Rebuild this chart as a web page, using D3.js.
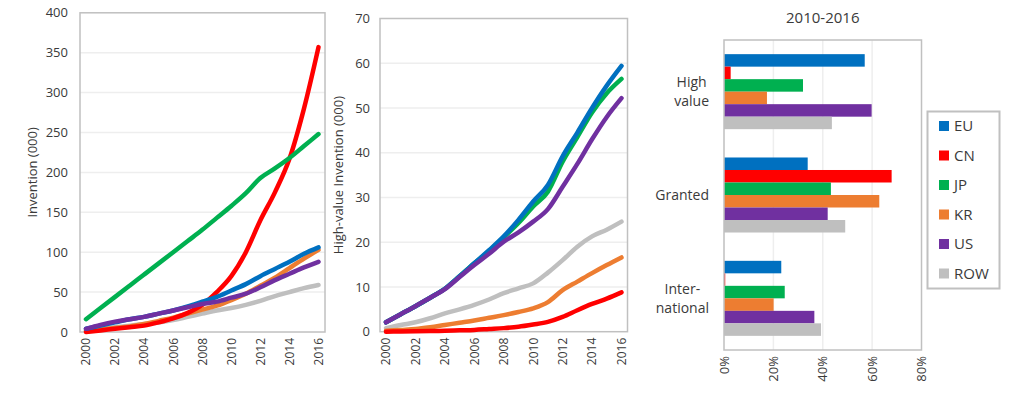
<!DOCTYPE html>
<html>
<head>
<meta charset="utf-8">
<script src="https://cdn.jsdelivr.net/npm/d3@7"></script>
<style>
  body { margin: 0; background: #fff; }
  svg { display: block; font-family: "Open Sans", sans-serif; }
</style>
</head>
<body>
<div id="chart"></div>
<script>
// Data
const years = d3.range(2000, 2017);
const regions = ["EU", "CN", "JP", "KR", "US", "ROW"];
const colors = ["#0070C0", "#FF0000", "#00B050", "#ED7D31", "#7030A0", "#BFBFBF"];

// Invention (000)
const invEU  = [4, 8, 12, 16, 19, 23, 27, 32, 38, 44, 52, 60, 70, 79, 88, 98, 106];
const invCN  = [0, 2, 4, 6, 8, 12, 17, 24, 34, 50, 70, 100, 140, 175, 217, 280, 357];
const invJP  = [16, 30, 44, 58, 72, 86, 100, 114, 128, 143, 158, 174, 193, 205, 218, 233, 248];
const invKR  = [1, 3, 5, 7, 10, 14, 18, 23, 28, 33, 40, 48, 58, 68, 80, 92, 103];
const invUS  = [4, 9, 13, 16, 19, 23, 27, 31, 35, 38, 43, 48, 56, 65, 73, 81, 88];
const invROW = [2, 4, 6, 8, 10, 12, 15, 19, 23, 27, 30, 34, 39, 45, 50, 55, 59];

// High-value Invention (000)
const hvEU  = [2.1, 3.9, 5.7, 7.6, 9.6, 12.4, 15.3, 18.2, 21.3, 25.0, 29.1, 32.8, 39.2, 44.5, 50.0, 55.0, 59.4];
const hvCN  = [0, 0.05, 0.1, 0.15, 0.2, 0.3, 0.4, 0.6, 0.8, 1.1, 1.6, 2.2, 3.3, 4.8, 6.2, 7.4, 8.8];
const hvJP  = [2.1, 3.9, 5.7, 7.6, 9.6, 12.4, 15.3, 18.0, 21.1, 24.3, 28.0, 31.3, 38.0, 43.5, 49.0, 53.3, 56.5];
const hvKR  = [0.2, 0.4, 0.6, 1.0, 1.5, 2.0, 2.5, 3.1, 3.7, 4.4, 5.2, 6.6, 9.3, 11.2, 13.1, 14.9, 16.6];
const hvUS  = [2.1, 3.9, 5.7, 7.6, 9.5, 12.2, 14.9, 17.4, 20.1, 22.2, 24.6, 27.4, 32.4, 37.5, 43.0, 48.0, 52.2];
const hvROW = [0.8, 1.5, 2.1, 3.0, 4.1, 5.0, 6.0, 7.2, 8.6, 9.7, 10.8, 13.2, 16.0, 19.0, 21.3, 22.8, 24.6];

// Share by category, 2010-2016
const barCats = ["High value", "Granted", "International"];
const barLabels = [["High", "value"], ["Granted"], ["Inter-", "national"]];
const shareHigh = [0.57, 0.027, 0.32, 0.174, 0.598, 0.437];
const shareGranted = [0.339, 0.679, 0.433, 0.629, 0.42, 0.491];
const shareIntl = [0.232, 0.005, 0.246, 0.201, 0.366, 0.393];

const textColor = "#3a3a3a";
const frameColor = "#c0c0c0";
const gridColor = "#eeeeee";

const svg = d3.select("#chart").append("svg")
    .attr("width", 1016)
    .attr("height", 396);

function lineChart(opts) {
  const { x0, x1, y0, y1, px0, px1, max, step, series, title, titleX, tickX } = opts;
  const x = d3.scalePoint().domain(years).range([px0, px1]);
  const y = d3.scaleLinear().domain([0, max]).range([y1, y0]);
  const g = svg.append("g");

  // gridlines
  g.append("g").selectAll("line")
    .data(d3.range(step, max, step))
    .join("line")
      .attr("x1", x0).attr("x2", x1)
      .attr("y1", d => y(d)).attr("y2", d => y(d))
      .attr("stroke", gridColor).attr("stroke-width", 1.5);

  // y ticks
  g.append("g").selectAll("text")
    .data(d3.range(0, max + step, step))
    .join("text")
      .attr("x", tickX).attr("y", d => y(d))
      .attr("dy", "0.36em")
      .attr("text-anchor", "end")
      .attr("fill", textColor)
      .style("font-size", "13px")
      .text(d => d);

  // x ticks
  g.append("g").selectAll("text")
    .data(years.filter(d => d % 2 === 0))
    .join("text")
      .attr("transform", d => `translate(${x(d)},${y1 + 6}) rotate(-90)`)
      .attr("dy", "0.36em")
      .attr("text-anchor", "end")
      .attr("fill", textColor)
      .style("font-size", "12px")
      .text(d => d);

  // y title
  g.append("text")
    .attr("transform", `translate(${titleX},${(y0 + y1) / 2}) rotate(-90)`)
    .attr("text-anchor", "middle")
    .attr("fill", textColor)
    .style("font-size", "13px")
    .text(title);

  // frame
  g.append("rect")
    .attr("x", x0).attr("y", y0)
    .attr("width", x1 - x0).attr("height", y1 - y0)
    .attr("fill", "none")
    .attr("stroke", frameColor).attr("stroke-width", 1.5);

  const line = d3.line()
      .x((d, i) => x(years[i]))
      .y(d => y(d))
      .curve(d3.curveMonotoneX);

  // draw order: ROW, KR, CN, JP, EU, US on top like in the original
  const order = [5, 3, 1, 2, 0, 4];
  g.append("g").selectAll("path")
    .data(order)
    .join("path")
      .attr("d", i => line(series[i]))
      .attr("fill", "none")
      .attr("stroke", i => colors[i])
      .attr("stroke-width", 4.5)
      .attr("stroke-linecap", "round")
      .attr("stroke-linejoin", "round");
}

lineChart({
  x0: 80, x1: 325, y0: 12.8, y1: 332, px0: 86, px1: 318.5,
  max: 400, step: 50,
  series: [invEU, invCN, invJP, invKR, invUS, invROW],
  title: "Invention (000)", titleX: 37, tickX: 68
});

lineChart({
  x0: 380, x1: 627.5, y0: 18.5, y1: 331.7, px0: 386, px1: 621.5,
  max: 70, step: 10,
  series: [hvEU, hvCN, hvJP, hvKR, hvUS, hvROW],
  title: "High-value Invention (000)", titleX: 343, tickX: 370
});

// Bar chart
const shares = [shareHigh, shareGranted, shareIntl];
const bx0 = 724, bx1 = 921.5, by0 = 40, by1 = 350;
const bx = d3.scaleLinear().domain([0, 0.8]).range([bx0, bx1]);
const by = d3.scaleBand().domain(barCats).range([by0, by1])
    .paddingInner(0.274).paddingOuter(0.137);
const bySeries = d3.scaleBand().domain(regions).range([0, by.bandwidth()]);

const bg = svg.append("g");

bg.append("text")
  .attr("x", (bx0 + bx1) / 2).attr("y", 23)
  .attr("text-anchor", "middle")
  .attr("fill", textColor)
  .style("font-size", "15px")
  .text("2010-2016");

bg.append("g").selectAll("line")
  .data([0.2, 0.4, 0.6])
  .join("line")
    .attr("x1", d => bx(d)).attr("x2", d => bx(d))
    .attr("y1", by0).attr("y2", by1)
    .attr("stroke", gridColor).attr("stroke-width", 1.5);

bg.append("g").selectAll("text")
  .data([0, 0.2, 0.4, 0.6, 0.8])
  .join("text")
    .attr("transform", d => `translate(${bx(d)},${by1 + 6}) rotate(-90)`)
    .attr("dy", "0.36em")
    .attr("text-anchor", "end")
    .attr("fill", textColor)
    .style("font-size", "13px")
    .text(d3.format(".0%"));

barCats.forEach((cat, ci) => {
  const grp = bg.append("g").attr("transform", `translate(0,${by(cat)})`);
  grp.selectAll("rect")
    .data(shares[ci])
    .join("rect")
      .attr("x", bx(0))
      .attr("y", (d, i) => bySeries(regions[i]))
      .attr("width", d => bx(d) - bx(0))
      .attr("height", bySeries.bandwidth())
      .attr("fill", (d, i) => colors[i]);

  // category label, lines centered in a block right-aligned to the axis
  const lines = barLabels[ci];
  const lab = bg.append("text")
      .attr("fill", textColor)
      .attr("text-anchor", "middle")
      .style("font-size", "14px");
  const cy = by(cat) + by.bandwidth() / 2;
  const lh = 19;
  lines.forEach((t, li) => {
    lab.append("tspan")
      .attr("y", cy + (li - (lines.length - 1) / 2) * lh)
      .attr("dy", "0.36em")
      .text(t);
  });
  let maxW = 0;
  lab.selectAll("tspan").each(function() {
    maxW = Math.max(maxW, this.getComputedTextLength());
  });
  lab.selectAll("tspan").attr("x", 709 - maxW / 2);
});

bg.append("rect")
  .attr("x", bx0).attr("y", by0)
  .attr("width", bx1 - bx0).attr("height", by1 - by0)
  .attr("fill", "none")
  .attr("stroke", frameColor).attr("stroke-width", 1.5);

// Legend
const lg = svg.append("g");
lg.append("rect")
  .attr("x", 927.5).attr("y", 111.5)
  .attr("width", 72).attr("height", 177)
  .attr("fill", "#fff")
  .attr("stroke", frameColor).attr("stroke-width", 2);

const ly = d3.scalePoint().domain(regions).range([126, 273.5]);
const item = lg.selectAll("g.item")
  .data(regions)
  .join("g")
    .attr("class", "item")
    .attr("transform", d => `translate(939,${ly(d)})`);
item.append("rect")
  .attr("x", 0).attr("y", -5)
  .attr("width", 10).attr("height", 10)
  .attr("fill", (d, i) => colors[i]);
item.append("text")
  .attr("x", 15).attr("dy", "0.36em")
  .attr("fill", textColor)
  .style("font-size", "15px")
  .text(d => d);
</script>
</body>
</html>
